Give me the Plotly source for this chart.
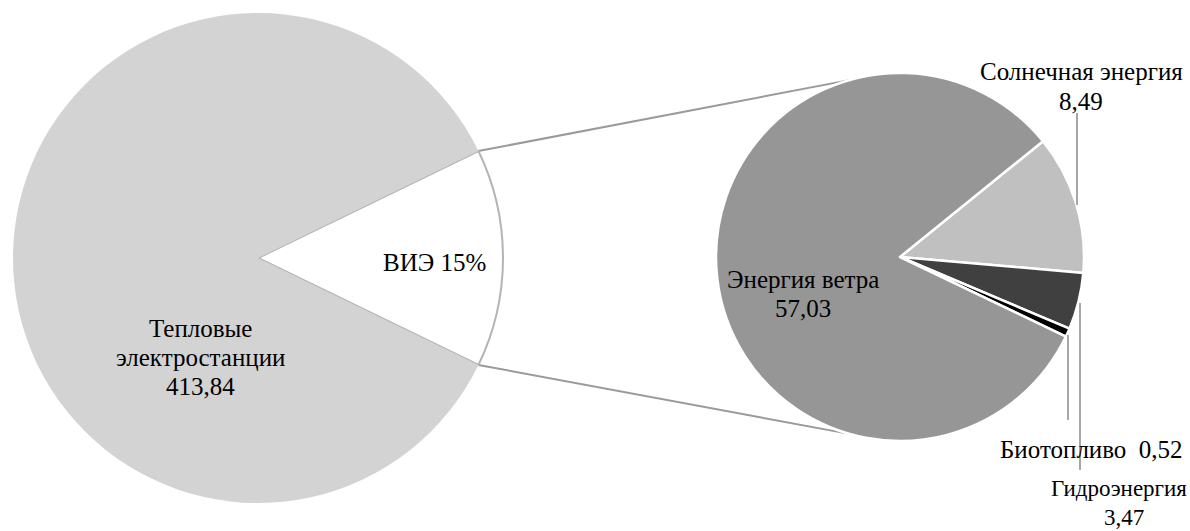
import math
import plotly.graph_objects as go

# ---- data ----
main_labels = ["ВИЭ", "Тепловые электростанции"]
thermal_value = 413.84
sub_labels = ["Солнечная энергия", "Гидроэнергия", "Биотопливо", "Энергия ветра"]
sub_values = [8.49, 3.47, 0.52, 57.03]
vie_share_label = "ВИЭ 15%"
thermal_label_lines = ["Тепловые", "электростанции"]

renewables_total = sum(sub_values)
main_values = [renewables_total, thermal_value]

# ---- layout geometry (page pixels) ----
W, H = 1190, 531
C1 = (258, 258); R1 = 245     # main pie
C2 = (900, 257); R2 = 184     # sub pie

def px(x):
    return x / W

def py(y):
    return 1 - y / H

def fmt(v):
    return f"{v:.2f}".replace(".", ",")

FONT = "Liberation Serif"
FS = 25
LS = 29  # line spacing in px

frac = main_values[0] / sum(main_values)
half = frac * 360 / 2
main_rotation = 90 - half
sub_rotation = 51

fig = go.Figure()

fig.add_trace(go.Pie(
    labels=main_labels, values=main_values, sort=False, direction="clockwise",
    rotation=main_rotation, textinfo="none", hoverinfo="none",
    marker=dict(colors=["#ffffff", "#d3d3d3"],
                line=dict(color=["#b4b4b4", "#d3d3d3"], width=[2, 0])),
    domain=dict(x=[px(C1[0] - R1), px(C1[0] + R1)], y=[py(C1[1] + R1), py(C1[1] - R1)]),
    showlegend=False,
))

fig.add_trace(go.Pie(
    labels=sub_labels, values=sub_values, sort=False, direction="clockwise",
    rotation=sub_rotation, textinfo="none", hoverinfo="none",
    marker=dict(colors=["#c0c0c0", "#404040", "#000000", "#969696"],
                line=dict(color="#ffffff", width=2.5)),
    domain=dict(x=[px(C2[0] - R2), px(C2[0] + R2)], y=[py(C2[1] + R2), py(C2[1] - R2)]),
    showlegend=False,
))

shapes = []
# connector lines from the ВИЭ slice edges to the sub pie
for sgn in (1, -1):
    a = math.radians(half) * sgn
    x0 = C1[0] + R1 * math.cos(a); y0 = C1[1] - R1 * math.sin(a)
    b = math.radians(106) * sgn
    x1 = C2[0] + R2 * math.cos(b); y1 = C2[1] - R2 * math.sin(b)
    shapes.append(dict(type="line", xref="paper", yref="paper",
                       x0=px(x0), y0=py(y0), x1=px(x1), y1=py(y1),
                       line=dict(color="#9a9a9a", width=2), layer="below"))

# leader lines
for (x, ya, yb) in [(1077, 113, 205), (1068, 335, 420), (1080, 303, 470)]:
    shapes.append(dict(type="line", xref="paper", yref="paper",
                       x0=px(x), y0=py(ya), x1=px(x), y1=py(yb),
                       line=dict(color="#8a8a8a", width=1.5)))

annotations = []

def ann(text, x, y, anchor="center", size=FS):
    annotations.append(dict(text=text, x=px(x), y=py(y), xref="paper", yref="paper",
                            showarrow=False, xanchor=anchor, yanchor="middle",
                            font=dict(family=FONT, size=size, color="#000000")))

def block(lines, x, y_first):
    for i, t in enumerate(lines):
        ann(t, x, y_first + i * LS)

block(thermal_label_lines + [fmt(thermal_value)], 200, 328)
ann(vie_share_label, 434, 262)
block([sub_labels[3], fmt(sub_values[3])], 803, 279)
block([sub_labels[0], fmt(sub_values[0])], 1081, 72)
ann(sub_labels[2] + "  " + fmt(sub_values[2]), 1091, 449)
ann(sub_labels[1], 1189, 488, anchor="right", size=23)
ann(fmt(sub_values[1]), 1124, 517, size=23)

fig.update_layout(
    width=W, height=H,
    margin=dict(l=0, r=0, t=0, b=0),
    paper_bgcolor="#ffffff", plot_bgcolor="#ffffff",
    shapes=shapes, annotations=annotations,
)

fig.write_html(
    "out.html",
    config={"displayModeBar": False},
    post_script="document.body.style.margin='0';document.body.style.overflow='hidden';",
)
